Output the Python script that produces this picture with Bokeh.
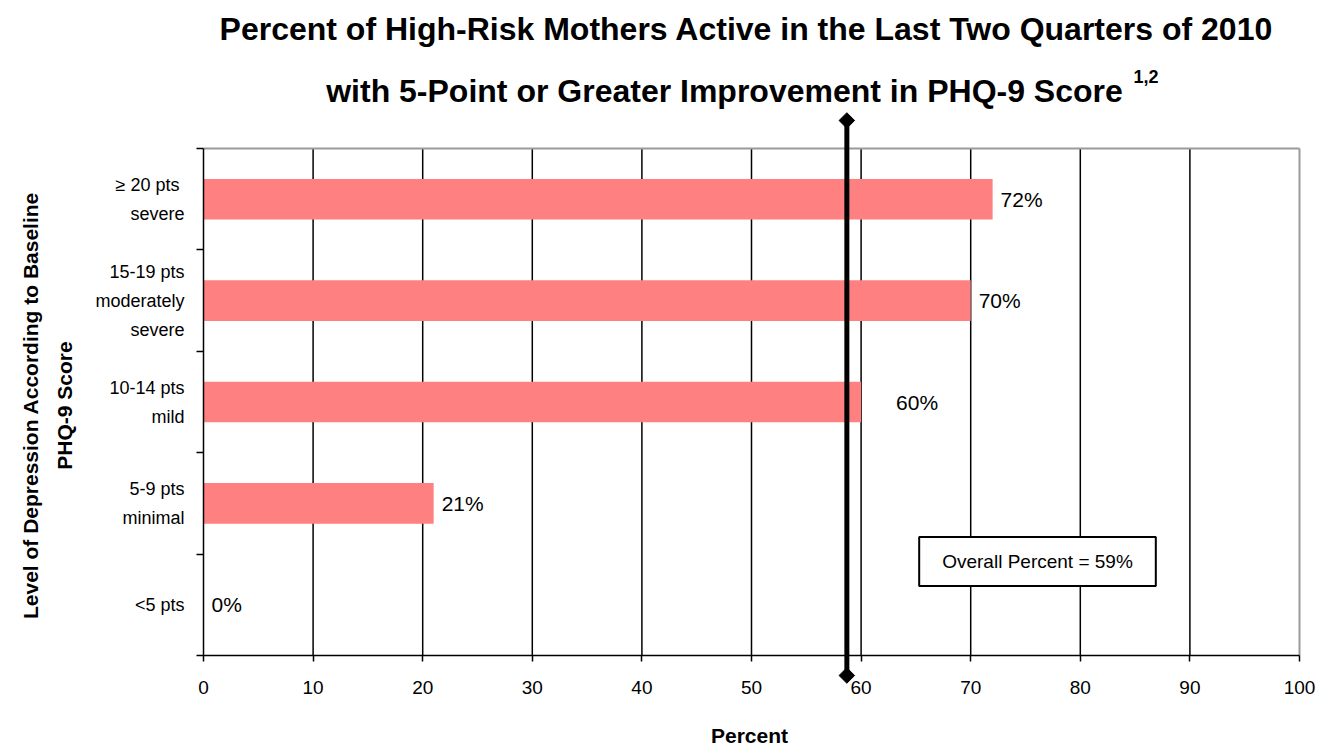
from bokeh.plotting import figure
from bokeh.models import Range1d, FixedTicker, ColumnDataSource, LabelSet, Label
from bokeh.core.properties import value
from bokeh.embed import file_html
from bokeh.resources import INLINE

# ---- data ----
categories = ["<5 pts", "5-9 pts\nminimal", "10-14 pts\nmild",
              "15-19 pts\nmoderately\nsevere", "\u2265  20 pts\nsevere"]
percent = [0, 21, 60, 70, 72]
x_ticks = [0, 10, 20, 30, 40, 50, 60, 70, 80, 90, 100]
overall_value = 58.7
overall_text = "Overall Percent = 59%"
title_line1 = "Percent of High-Risk Mothers Active in the Last Two Quarters of 2010"
title_line2 = "with 5-Point or Greater Improvement in PHQ-9 Score"
title_sup = "1,2"
x_title = "Percent"
y_title = "Level of Depression According to Baseline\nPHQ-9 Score"

# ---- layout constants (pixels) ----
W, H = 1317, 746
LEFT_PX, RIGHT_PX = 203, 1299
TOP_PX, AXIS_PX = 148, 655
N = len(categories)
PXY = (AXIS_PX - TOP_PX) / N
PXX = (RIGHT_PX - LEFT_PX) / 100.0


def ydat(cy):
    return (AXIS_PX - cy) / PXY


def xdat(cx):
    return (cx - LEFT_PX) / PXX


FONT = "Liberation Sans"
BAR = "#FF8080"

ys = [i + 0.5 for i in range(N)]
labels = [f"{v}%" for v in percent]
offsets = [35 if abs(v - overall_value) < 3 else 8 for v in percent]
src = ColumnDataSource(dict(y=ys, pct=percent, lbl=labels, off=offsets))

# the frame covers the whole canvas; axes are pinned at x=0 / y=0
p = figure(width=W, height=H, x_range=Range1d(xdat(0), xdat(W)), y_range=Range1d(ydat(H), ydat(0)),
           output_backend="svg", toolbar_location=None, title=None,
           min_border_left=0, min_border_right=0, min_border_top=0, min_border_bottom=0)
p.background_fill_color = "white"
p.border_fill_color = "white"
p.outline_line_color = None

# grid lines bounded to the plot area
p.xgrid.visible = False
p.ygrid.visible = False
grid_x = x_ticks[1:-1]
p.segment(x0=grid_x, y0=[0] * len(grid_x), x1=grid_x, y1=[N] * len(grid_x),
          line_color="black", line_width=1.5)
# gray top and right border of plot area
p.segment(x0=[0, 100], y0=[N, N], x1=[100, 100], y1=[N, 0], line_color="#9a9a9a", line_width=2)

p.hbar(y="y", left=0, right="pct", height=0.4, source=src, fill_color=BAR, line_color=None)

# x axis at y = 0
p.xaxis.fixed_location = 0
p.xaxis.bounds = (0, 100)
p.xaxis.ticker = FixedTicker(ticks=x_ticks, minor_ticks=[])
p.xaxis.major_tick_out = 6
p.xaxis.major_tick_in = 0
p.xaxis.major_tick_line_width = 1.5
p.xaxis.axis_line_width = 1.5
p.xaxis.major_label_text_font = FONT
p.xaxis.major_label_text_font_size = "19px"
p.xaxis.major_label_text_color = "black"
p.xaxis.major_label_standoff = 19

# y axis at x = 0
p.yaxis.fixed_location = 0
p.yaxis.bounds = (0, N)
p.yaxis.ticker = FixedTicker(ticks=ys, minor_ticks=list(range(N + 1)))
p.yaxis.major_label_overrides = {y: c for y, c in zip(ys, categories)}
p.yaxis.major_tick_out = 0
p.yaxis.major_tick_in = 0
p.yaxis.minor_tick_out = 7
p.yaxis.minor_tick_in = 0
p.yaxis.minor_tick_line_color = "black"
p.yaxis.minor_tick_line_width = 1.5
p.yaxis.axis_line_width = 1.5
p.yaxis.major_label_text_font = FONT
p.yaxis.major_label_text_font_size = "18px"
p.yaxis.major_label_text_color = "black"
p.yaxis.major_label_text_line_height = 1.45
p.yaxis.major_label_standoff = 12

# axis titles
p.add_layout(Label(x=xdat(749), y=ydat(735), text=x_title, text_align="center",
                   text_baseline="middle", text_font=FONT, text_font_style="bold",
                   text_font_size="21px", text_color="black"))
p.add_layout(Label(x=xdat(47), y=ydat(405), text=y_title, text_align="center",
                   text_baseline="middle", angle=1.5707963, text_font=FONT,
                   text_font_style="bold", text_font_size="21px", text_color="black",
                   text_line_height=1.45))

# value labels
p.add_layout(LabelSet(x="pct", y="y", text="lbl", x_offset="off", source=src,
                      text_font=value(FONT), text_font_size="21px", text_baseline="middle",
                      text_color="black"))

# overall reference line with diamond ends
y_top, y_bot = ydat(120), ydat(675)
p.segment(x0=[overall_value], y0=[y_bot], x1=[overall_value], y1=[y_top],
          line_width=5, line_color="black")
p.scatter(x=[overall_value, overall_value], y=[y_top, y_bot], marker="square",
          angle=0.785398, size=11, fill_color="black", line_color="black")

# overall box
p.add_layout(Label(x=xdat(1037), y=ydat(561), text=overall_text, text_align="center",
                   text_baseline="middle", text_font=FONT, text_font_size="19px",
                   text_color="black", border_line_color="black", border_line_width=2,
                   background_fill_color="white", padding=(23, 14)))

# titles
p.add_layout(Label(x=xdat(746), y=ydat(28), text=title_line1,
                   text_align="center", text_baseline="middle", text_font=FONT,
                   text_font_style="bold", text_font_size="32px", text_color="black"))
p.add_layout(Label(x=xdat(724), y=ydat(90), text=title_line2,
                   text_align="center", text_baseline="middle", text_font=FONT,
                   text_font_style="bold", text_font_size="32px", text_color="black"))
p.add_layout(Label(x=xdat(1133), y=ydat(76), text=title_sup,
                   text_align="left", text_baseline="middle", text_font=FONT,
                   text_font_style="bold", text_font_size="18px", text_color="black"))

open("out.html", "w").write(file_html(p, INLINE))
